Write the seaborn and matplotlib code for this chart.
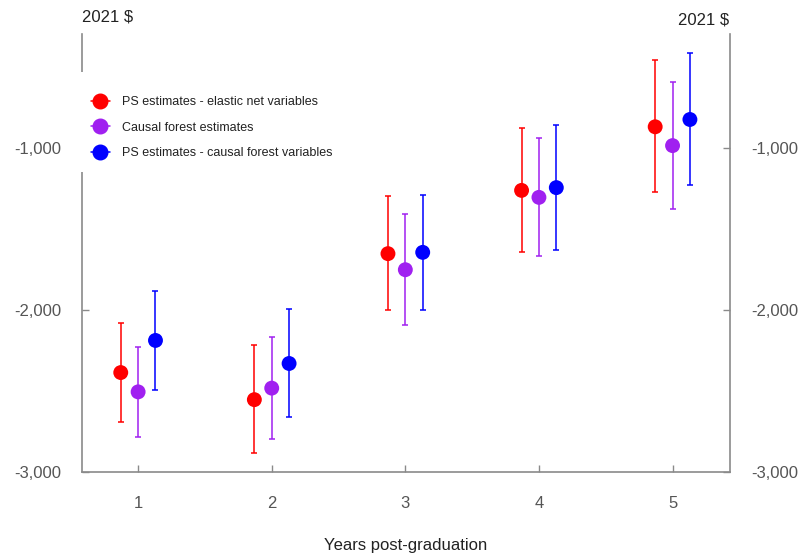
import matplotlib
matplotlib.use("Agg")
import matplotlib.pyplot as plt
from matplotlib.lines import Line2D
from matplotlib.patches import Rectangle
import numpy as np
import pandas as pd
import seaborn as sns

# ---- data (2021 $) ----
years = [1, 2, 3, 4, 5]
series_names = ["PS estimates - elastic net variables",
                "Causal forest estimates",
                "PS estimates - causal forest variables"]

elastic_est = [-2387, -2554, -1654, -1264, -872]
elastic_lo = [-2693, -2883, -2004, -1646, -1273]
elastic_hi = [-2082, -2218, -1296, -881, -463]

forest_est = [-2506, -2483, -1753, -1307, -988]
forest_lo = [-2782, -2798, -2093, -1671, -1377]
forest_hi = [-2227, -2169, -1407, -940, -597]

cfvars_est = [-2189, -2331, -1646, -1247, -827]
cfvars_lo = [-2494, -2660, -2000, -1630, -1233]
cfvars_hi = [-1883, -1996, -1294, -864, -420]

y_ticks = [-3000, -2000, -1000]
y_ticklabels = ["-3,000", "-2,000", "-1,000"]

# ---- style ----
colors = ["#FF0000", "#A020F0", "#0000FF"]
offsets = [-0.13, 0.0, 0.13]

sns.set_style("white")
plt.rcParams["font.family"] = ["Liberation Sans", "DejaVu Sans"]

rows = []
for name, est, lo, hi, off in zip(series_names,
                                  [elastic_est, forest_est, cfvars_est],
                                  [elastic_lo, forest_lo, cfvars_lo],
                                  [elastic_hi, forest_hi, cfvars_hi],
                                  offsets):
    for yr, e, l, h in zip(years, est, lo, hi):
        rows.append({"series": name, "year": yr, "xpos": yr + off,
                     "est": e, "lo": l, "hi": h})
df = pd.DataFrame(rows)

fig = plt.figure(figsize=(8.02, 5.54), dpi=100)
W, H = 802, 554
ax = fig.add_axes([82 / W, 1 - 472 / H, (730 - 82) / W, (472 - 34) / H])

for name, c in zip(series_names, colors):
    d = df[df["series"] == name]
    ax.errorbar(d["xpos"], d["est"],
                yerr=[d["est"] - d["lo"], d["hi"] - d["est"]],
                fmt="none", ecolor=c, elinewidth=1.1, capsize=2.2,
                capthick=1.1, zorder=2)

sns.scatterplot(data=df, x="xpos", y="est", hue="series",
                palette=dict(zip(series_names, colors)), s=115,
                edgecolor="none", linewidth=0, legend=False, zorder=3, ax=ax)

ax.set_xlim(0.58, 5.43)
ax.set_ylim(-3000, -300)
ax.set_xticks(years)
ax.set_xticklabels([str(y) for y in years])
ax.set_yticks(y_ticks)
ax.set_yticklabels(y_ticklabels)

for side in ["left", "right", "bottom"]:
    ax.spines[side].set_visible(True)
    ax.spines[side].set_color("#8a8a8a")
    ax.spines[side].set_linewidth(1.2)
ax.spines["top"].set_visible(False)

ax.tick_params(axis="y", which="both", left=True, right=True,
               labelleft=True, labelright=True, direction="in",
               length=5, width=1, color="#8a8a8a", labelcolor="#555555",
               labelsize=12, pad=15)
ax.tick_params(axis="x", bottom=True, direction="in", length=5, width=1,
               color="#8a8a8a", labelcolor="#555555", labelsize=12, pad=17)

ax.set_xlabel("Years post-graduation", fontsize=12, color="#222222",
              labelpad=20)
ax.set_ylabel("")

fig.text(82 / W, 1 - 17 / H, "2021 $", ha="left", va="center",
         fontsize=12, color="#222222")
fig.text(729 / W, 1 - 20 / H, "2021 $", ha="right", va="center",
         fontsize=12, color="#222222")

# white box behind the legend interrupting the left axis line
ax.add_patch(Rectangle((74 / W, 1 - 172 / H), 30 / W, 100 / H,
                       transform=fig.transFigure, facecolor="white",
                       edgecolor="none", clip_on=False, zorder=6))

handles = [Line2D([0], [0], color=c, marker="o", markersize=10.5,
                  linewidth=1.1) for c in colors]
leg = ax.legend(handles, series_names, loc="upper left",
                bbox_to_anchor=(86 / W, 1 - 91 / H),
                bbox_transform=fig.transFigure, borderaxespad=0,
                frameon=False, fontsize=9, labelspacing=1.1,
                handlelength=1.5, handletextpad=1.0, borderpad=0.4)
leg.set_zorder(10)
for t in leg.get_texts():
    t.set_color("#222222")

fig.savefig("out.png", dpi=100, facecolor="white")
